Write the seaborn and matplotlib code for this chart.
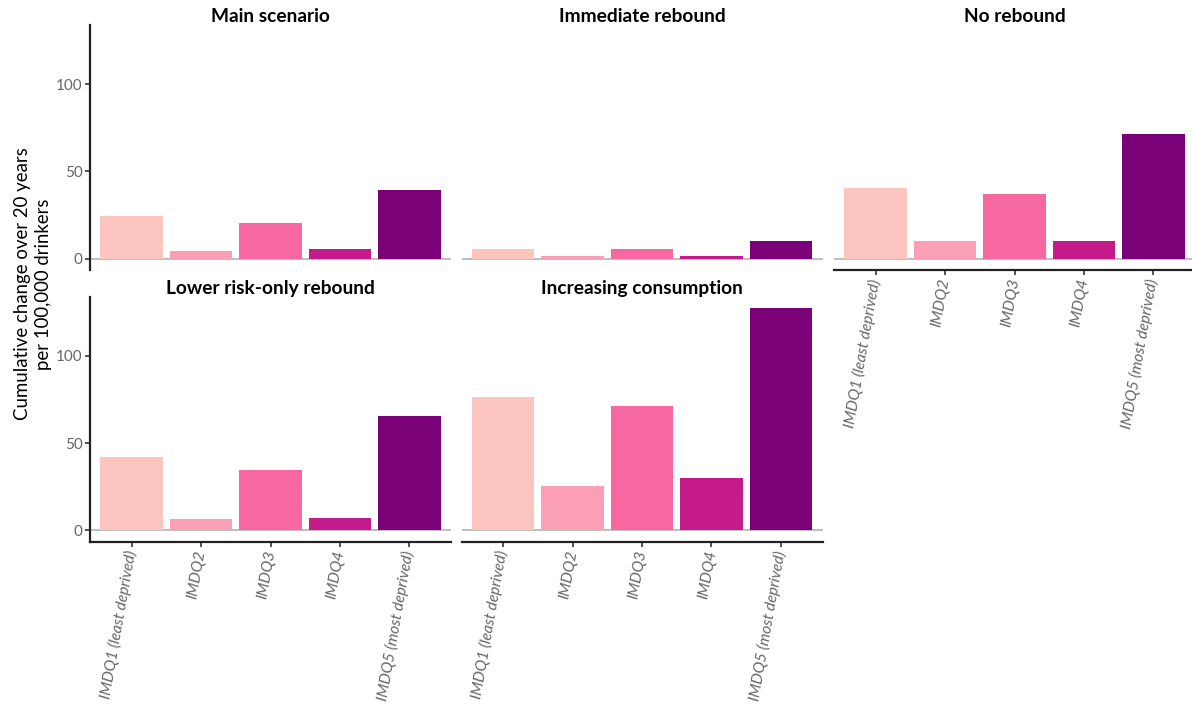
import matplotlib
matplotlib.use("Agg")
import matplotlib.pyplot as plt
import seaborn as sns
import pandas as pd

# Deprivation quintiles and scenario values (cumulative change per 100,000 drinkers)
groups = ["IMDQ1 (least deprived)", "IMDQ2", "IMDQ3", "IMDQ4", "IMDQ5 (most deprived)"]
scenarios = ["Main scenario", "Immediate rebound", "No rebound",
             "Lower risk-only rebound", "Increasing consumption"]
main_scenario = [24.3, 4.6, 20.6, 5.4, 39.2]
immediate_rebound = [5.4, 1.5, 5.4, 1.5, 10.1]
no_rebound = [40.5, 10.1, 37.2, 10.3, 71.4]
lower_risk_rebound = [41.9, 6.5, 34.5, 7.1, 65.4]
increasing_consumption = [76.6, 25.7, 71.1, 29.9, 127.1]
palette = ["#fcc5c0", "#fa9fb5", "#f768a1", "#c51b8a", "#7a0177"]

values = [main_scenario, immediate_rebound, no_rebound,
          lower_risk_rebound, increasing_consumption]
df = pd.DataFrame([
    {"scenario": s, "group": g, "value": v}
    for s, vals in zip(scenarios, values) for g, v in zip(groups, vals)
])

sns.set_theme(style="white")
plt.rcParams["font.family"] = ["Lato", "DejaVu Sans"]

W, H = 1192, 711
fig = plt.figure(figsize=(W / 100, H / 100), dpi=100)

col_left = [90, 461.5, 834]
panel_w = 361
row_top = [25.5, 297.1]
panel_h = 244.5
ymax = max(max(v) for v in values)
ylim = (-0.05 * ymax, 1.05 * ymax)

# facet layout: (row, col, show x axis)
layout = [(0, 0, False), (0, 1, False), (0, 2, True), (1, 0, True), (1, 1, True)]
axis_color = "#222222"

for scen, (r, c, show_x) in zip(scenarios, layout):
    left = col_left[c] / W
    bottom = 1 - (row_top[r] + panel_h) / H
    ax = fig.add_axes([left, bottom, panel_w / W, panel_h / H])
    ax.set_facecolor("white")
    sub = df[df["scenario"] == scen]
    sns.barplot(data=sub, x="group", y="value", hue="group", palette=palette,
                order=groups, hue_order=groups, width=0.9, saturation=1,
                legend=False, linewidth=0, ax=ax)
    ax.axhline(0, color="#bebebe", lw=1.4, zorder=0.5)
    ax.set_xlim(-0.6, len(groups) - 0.4)
    ax.set_ylim(*ylim)
    ax.set_xlabel("")
    ax.set_ylabel("")
    for side in ["top", "right"]:
        ax.spines[side].set_visible(False)
    ax.spines["left"].set_visible(c == 0)
    ax.spines["bottom"].set_visible(show_x)
    for side in ["left", "bottom"]:
        ax.spines[side].set_color(axis_color)
        ax.spines[side].set_linewidth(1.6)

    if c == 0:
        ax.set_yticks([0, 50, 100])
        ax.tick_params(axis="y", left=True, length=3.5, width=1.1,
                       color=axis_color, labelsize=11, labelcolor="#666666", pad=2)
    else:
        ax.tick_params(axis="y", left=False, labelleft=False)

    if show_x:
        ax.set_xticks(range(len(groups)))
        ax.set_xticklabels(groups, rotation=80, ha="right", va="center",
                           rotation_mode="anchor", style="italic",
                           color="#666666", fontsize=11.2)
        ax.tick_params(axis="x", bottom=True, length=3.5, width=1.1,
                       color=axis_color, pad=3)
    else:
        ax.tick_params(axis="x", bottom=False, labelbottom=False)

    # strip title sits behind the panel so the panel edge trims it
    cx = (col_left[c] + panel_w / 2) / W
    ty = 1 - (row_top[r] - 8.5) / H
    fig.text(cx, ty, scen, ha="center", va="center", fontsize=13.8,
             fontweight="bold", color="black", zorder=-1)

fig.text(33 / W, 1 - 284 / H,
         "Cumulative change over 20 years\nper 100,000 drinkers",
         rotation=90, ha="center", va="center", multialignment="center",
         fontsize=13.4, color="black", linespacing=1.25)

fig.savefig("out.png", dpi=100, facecolor="white")
